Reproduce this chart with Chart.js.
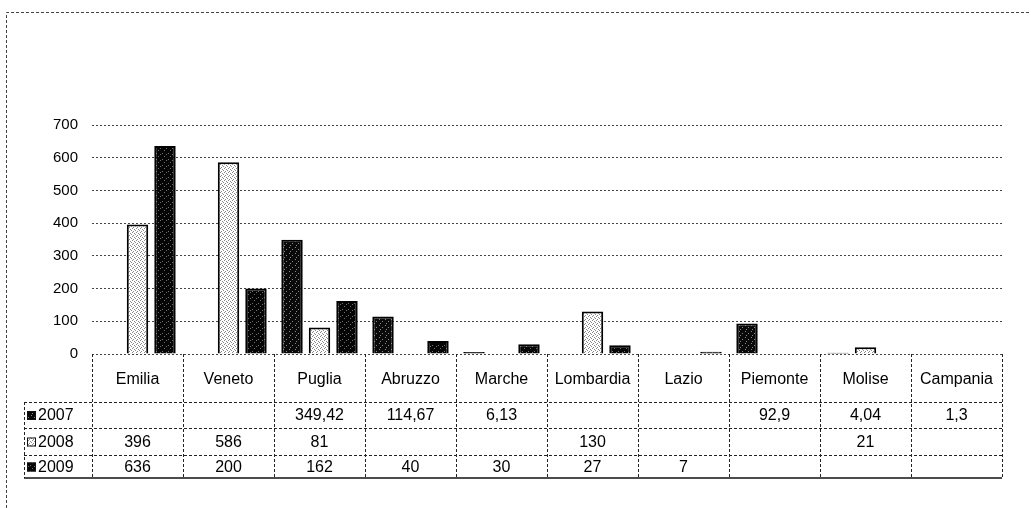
<!DOCTYPE html>
<html>
<head>
<meta charset="utf-8">
<script src="https://cdn.jsdelivr.net/npm/chart.js@4/dist/chart.umd.min.js"></script>
<style>
  html, body { margin: 0; padding: 0; background: #fff; }
  canvas { display: block; }
</style>
</head>
<body>
<canvas id="c" width="1031" height="508"></canvas>
<script>
// ---- data ----
const categories = ['Emilia', 'Veneto', 'Puglia', 'Abruzzo', 'Marche', 'Lombardia', 'Lazio', 'Piemonte', 'Molise', 'Campania'];
const seriesNames = ['2007', '2008', '2009'];
const values2007 = [null, null, 349.42, 114.67, 6.13, null, null, 92.9, 4.04, 1.3];
const values2008 = [396, 586, 81, null, null, 130, null, null, 21, null];
const values2009 = [636, 200, 162, 40, 30, 27, 7, null, null, null];
const yMin = 0, yMax = 700, yStep = 100;

const FONT = "'Liberation Sans', Arial, sans-serif";

function makePattern(bg, fg, dots, size) {
  const c = document.createElement('canvas');
  c.width = size; c.height = size;
  const g = c.getContext('2d');
  g.fillStyle = bg; g.fillRect(0, 0, size, size);
  g.fillStyle = fg;
  dots.forEach(([x, y]) => g.fillRect(x, y, 1, 1));
  return g.createPattern(c, 'repeat');
}
const pat2007 = makePattern('#0a0a0a', '#8a8a8a', [[1, 1], [4, 3], [2, 5]], 6);
const pat2008 = makePattern('#ffffff', '#8a8a8a', [[0, 0], [2, 1], [1, 3], [3, 2]], 4);
const pat2009 = makePattern('#050505', '#707070', [[2, 0], [0, 3], [4, 4]], 6);
const patterns = [pat2007, pat2008, pat2009];
const seriesValues = [values2007, values2008, values2009];

const fmt = v => (v === null || v === undefined) ? '' : String(v).replace('.', ',');

const tablePlugin = {
  id: 'dataTable',
  beforeDraw(chart) {
    const ctx = chart.ctx;
    ctx.save();
    ctx.strokeStyle = '#444';
    ctx.lineWidth = 1;
    ctx.setLineDash([3, 2]);
    ctx.beginPath();
    ctx.moveTo(6.5, 508); ctx.lineTo(6.5, 12.5); ctx.lineTo(1031, 12.5);
    ctx.stroke();
    ctx.restore();
  },
  afterDraw(chart) {
    const { ctx, chartArea: ca, scales: { x } } = chart;
    const n = categories.length;
    const cw = (ca.right - ca.left) / n;
    const top = ca.bottom;
    const rowTops = [top + 48, top + 74, top + 101];
    const bottom = top + 124;
    const legendLeft = 24;

    ctx.save();
    ctx.strokeStyle = '#222';
    ctx.lineWidth = 1;
    ctx.setLineDash([3, 2]);
    ctx.beginPath();
    rowTops.forEach(y => { ctx.moveTo(legendLeft, Math.round(y) + 0.5); ctx.lineTo(ca.right, Math.round(y) + 0.5); });
    // verticals
    ctx.moveTo(legendLeft + 0.5, rowTops[0]); ctx.lineTo(legendLeft + 0.5, bottom);
    for (let i = 0; i <= n; i++) {
      const bx = Math.round(x.getPixelForValue(0) - cw / 2 + i * cw) + 0.5;
      ctx.moveTo(bx, top); ctx.lineTo(bx, bottom);
    }
    ctx.stroke();
    ctx.setLineDash([]);
    ctx.strokeStyle = '#111';
    ctx.lineWidth = 1.5;
    ctx.beginPath();
    ctx.moveTo(legendLeft, bottom); ctx.lineTo(ca.right, bottom);
    ctx.stroke();

    // rows
    ctx.font = '16px ' + FONT;
    ctx.textBaseline = 'middle';
    const rowBounds = [rowTops[0], rowTops[1], rowTops[2], bottom];
    seriesNames.forEach((name, s) => {
      const yc = (rowBounds[s] + rowBounds[s + 1]) / 2 + 1;
      // legend marker
      ctx.fillStyle = patterns[s];
      ctx.fillRect(27, yc - 5, 9, 9);
      ctx.strokeStyle = '#111';
      ctx.lineWidth = 1;
      ctx.strokeRect(27.5, yc - 4.5, 8, 8);
      ctx.fillStyle = '#000';
      ctx.textAlign = 'left';
      ctx.fillText(name, 38, yc);
      ctx.textAlign = 'center';
      seriesValues[s].forEach((v, i) => {
        const t = fmt(v);
        if (t) ctx.fillText(t, x.getPixelForValue(i), yc);
      });
    });
    ctx.restore();
  }
};

new Chart(document.getElementById('c'), {
  type: 'bar',
  data: {
    labels: categories,
    datasets: seriesNames.map((name, s) => ({
      label: name,
      data: seriesValues[s],
      backgroundColor: patterns[s],
      borderColor: '#000',
      borderWidth: 2,
      categoryPercentage: 0.906,
      barPercentage: 0.78
    }))
  },
  options: {
    responsive: false,
    devicePixelRatio: 1,
    animation: false,
    layout: { padding: { left: 22, right: 29, top: 125, bottom: 0 } },
    plugins: { legend: { display: false }, tooltip: { enabled: false } },
    scales: {
      x: {
        grid: { display: false, drawTicks: false },
        border: { display: false },
        ticks: { color: '#000', font: { family: FONT, size: 16 }, padding: 16, maxRotation: 0, autoSkip: false },
        afterFit: s => { s.height = 154; }
      },
      y: {
        min: yMin, max: yMax,
        grid: { color: '#444', lineWidth: 1, drawTicks: false },
        border: { display: false, dash: [2, 2] },
        ticks: { stepSize: yStep, color: '#000', font: { family: FONT, size: 15 }, padding: 14 },
        afterFit: s => { s.width = 70; }
      }
    }
  },
  plugins: [tablePlugin]
});
</script>
</body>
</html>
